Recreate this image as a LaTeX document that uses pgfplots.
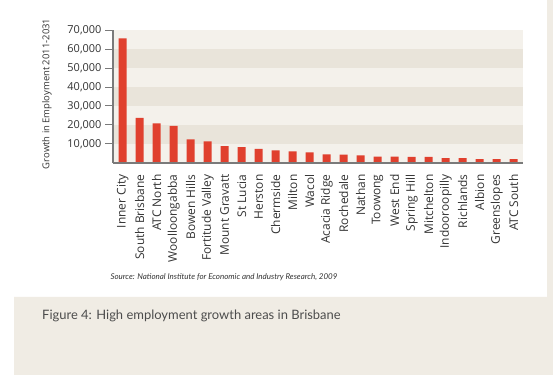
\documentclass[border=0pt]{standalone}
\usepackage{fontspec}
\setmainfont{Lato}
\newfontfamily\axfont{Open Sans}
\usepackage{pgfplots}
\pgfplotsset{compat=1.18}
\definecolor{barred}{HTML}{E0402E}
\definecolor{bandlight}{HTML}{F4F1EB}
\definecolor{banddark}{HTML}{E9E4DA}
\definecolor{pagebeige}{HTML}{F0ECE4}
\definecolor{axgray}{HTML}{7A7A7A}
\definecolor{txt}{HTML}{333333}
\begin{document}
\begin{tikzpicture}
\path[use as bounding box, fill=white] (0,0) rectangle (553bp,375bp);
\fill[pagebeige] (547bp,375bp) -- (553bp,375bp) -- (553bp,0) -- (14bp,0) -- (14bp,78bp) -- (547bp,78bp) -- cycle;
\begin{axis}[at={(113bp,212bp)}, anchor=south west, scale only axis,
  width=410bp, height=133bp,
  xmin=-0.57, xmax=23.55, ymin=0, ymax=70000,
  axis on top,
  axis x line=bottom, axis y line=left,
  axis line style={-, draw=axgray, line width=1.2bp},
  xtick={0,...,23},
  xticklabels={Inner City, South Brisbane, ATC North, Woolloongabba, Bowen Hills, Fortitude Valley, Mount Gravatt, St Lucia, Herston, Chermside, Milton, Wacol, Acacia Ridge, Rochedale, Nathan, Toowong, West End, Spring Hill, Mitchelton, Indooroopilly, Richlands, Albion, Greenslopes, ATC South},
  x tick label style={rotate=90, anchor=east, font=\axfont\fontsize{12}{14}\selectfont, text=txt},
  xtick style={draw=none},
  ytick={10000,20000,30000,40000,50000,60000,70000},
  scaled y ticks=false,
  tick align=outside,
  major tick length=8bp,
  ytick style={draw=axgray, line width=1bp},
  y tick label style={font=\axfont\fontsize{11}{13}\selectfont, text=txt, /pgf/number format/fixed, /pgf/number format/1000 sep={,}, /pgf/number format/assume math mode=true},
  ylabel={Growth in Employment 2011-2031},
  ylabel style={at={(axis description cs:-0.161,0.52)}, anchor=center, font=\axfont\fontsize{9.5}{12}\selectfont, text=txt},
]
\fill[bandlight] (axis cs:-0.57,0) rectangle (axis cs:23.55,70000);
\fill[banddark] (axis cs:-0.57,10000) rectangle (axis cs:23.55,20000);
\fill[banddark] (axis cs:-0.57,30000) rectangle (axis cs:23.55,40000);
\fill[banddark] (axis cs:-0.57,50000) rectangle (axis cs:23.55,60000);
\addplot[ybar, bar width=8bp, fill=barred, draw=none] coordinates {
(0,65600) (1,23800) (2,20800) (3,19600) (4,12400) (5,11400) (6,8900) (7,8400) (8,7400) (9,6600)
(10,6100) (11,5600) (12,4600) (13,4400) (14,4000) (15,3300) (16,3300) (17,3200) (18,3200)
(19,2500) (20,2500) (21,2100) (22,2100) (23,2100)};
\end{axis}
\node[anchor=west, font=\fontsize{8}{9}\selectfont\itshape, text=txt] at (107bp,98bp) {Source: National Institute for Economic and Industry Research, 2009};
\node[anchor=base west, inner sep=0pt, font=\fontsize{13}{15}\selectfont, text=black!70] at (42bp,55bp) {Figure 4: High employment growth areas in Brisbane};
\end{tikzpicture}
\end{document}
